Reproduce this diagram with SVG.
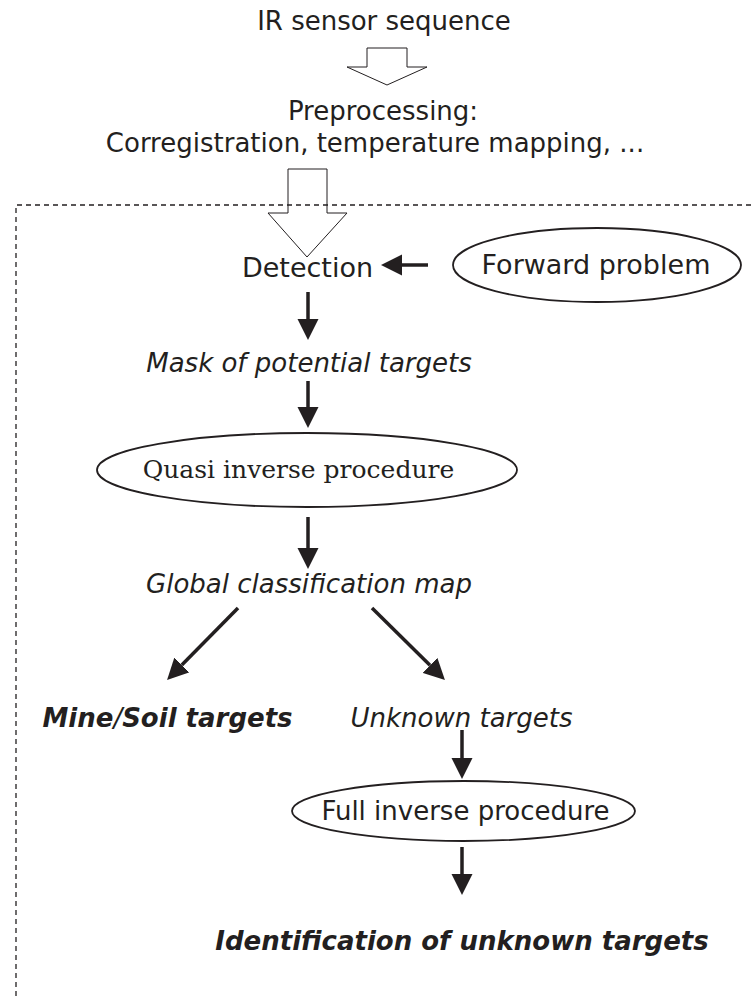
<svg xmlns="http://www.w3.org/2000/svg" width="751" height="996" viewBox="0 0 751 996">
<defs>
<marker id="ah" viewBox="0 -11 21 22" markerWidth="21" markerHeight="22" refX="0" refY="0" orient="auto" markerUnits="userSpaceOnUse">
<path d="M0,-10.5 L21,0 L0,10.5 Z" fill="#231f20"/>
</marker>
</defs>
<style>
text{fill:#231f20;font-size:26px;text-anchor:middle;font-family:"DejaVu Sans",sans-serif}
.l{font-size:27px}
.it{font-style:italic}
.bi{font-style:italic;font-weight:bold}
.sf{font-family:"DejaVu Serif",serif;font-size:25px}
.ell{fill:#fff;stroke:#231f20;stroke-width:1.8}
.hol{fill:none;stroke:#231f20;stroke-width:1}
.con{stroke:#231f20;stroke-width:3.5;fill:none}
</style>
<rect width="751" height="996" fill="#fff"/>
<path d="M16,996 V205 H751" fill="none" stroke="#231f20" stroke-width="1.3" stroke-dasharray="5,4"/>
<g id="n-ir"><text x="384" y="30" font-size="26.6">IR sensor sequence</text></g>
<g id="n-pre"><text x="383" y="120" font-size="26.3">Preprocessing:</text><text x="375" y="152" font-size="25.7">Corregistration, temperature mapping, ...</text></g>
<g id="n-det"><text class="l" x="307.5" y="277">Detection</text></g>
<g id="n-fwd"><ellipse class="ell" cx="597" cy="265" rx="144" ry="37"/><text class="l" x="596" y="274">Forward problem</text></g>
<g id="n-mask"><text class="it" x="309" y="372">Mask of potential targets</text></g>
<g id="n-quasi"><ellipse class="ell" cx="307" cy="470" rx="210" ry="37"/><text class="sf" x="298.5" y="478">Quasi inverse procedure</text></g>
<g id="n-glob"><text class="it" x="309" y="593">Global classification map</text></g>
<g id="n-mine"><text class="bi" x="167.5" y="727">Mine<tspan font-weight="normal">/</tspan>Soil targets</text></g>
<g id="n-unk"><text class="it" x="461.5" y="727">Unknown targets</text></g>
<g id="n-full"><ellipse class="ell" cx="463.5" cy="811" rx="171.5" ry="30"/><text x="465.5" y="820">Full inverse procedure</text></g>
<g id="n-ident"><text class="bi" x="462" y="950">Identification of unknown targets</text></g>
<g id="connectors">
<path class="hol" d="M367,48 H407 V67 H427 L387,85 L347,67 H367 Z"/>
<path class="hol" d="M288,169 H327 V213 H347 L307,257 L268,213 H288 Z"/>
<path class="con" d="M428,265 H402" marker-end="url(#ah)"/>
<path class="con" d="M308,292 V319" marker-end="url(#ah)"/>
<path class="con" d="M308,381 V407" marker-end="url(#ah)"/>
<path class="con" d="M308,517 V548" marker-end="url(#ah)"/>
<path class="con" d="M238,608 L181.8,665" marker-end="url(#ah)"/>
<path class="con" d="M372,608 L430,665.3" marker-end="url(#ah)"/>
<path class="con" d="M462,730 V758" marker-end="url(#ah)"/>
<path class="con" d="M462,847 V874" marker-end="url(#ah)"/>
</g>
</svg>
